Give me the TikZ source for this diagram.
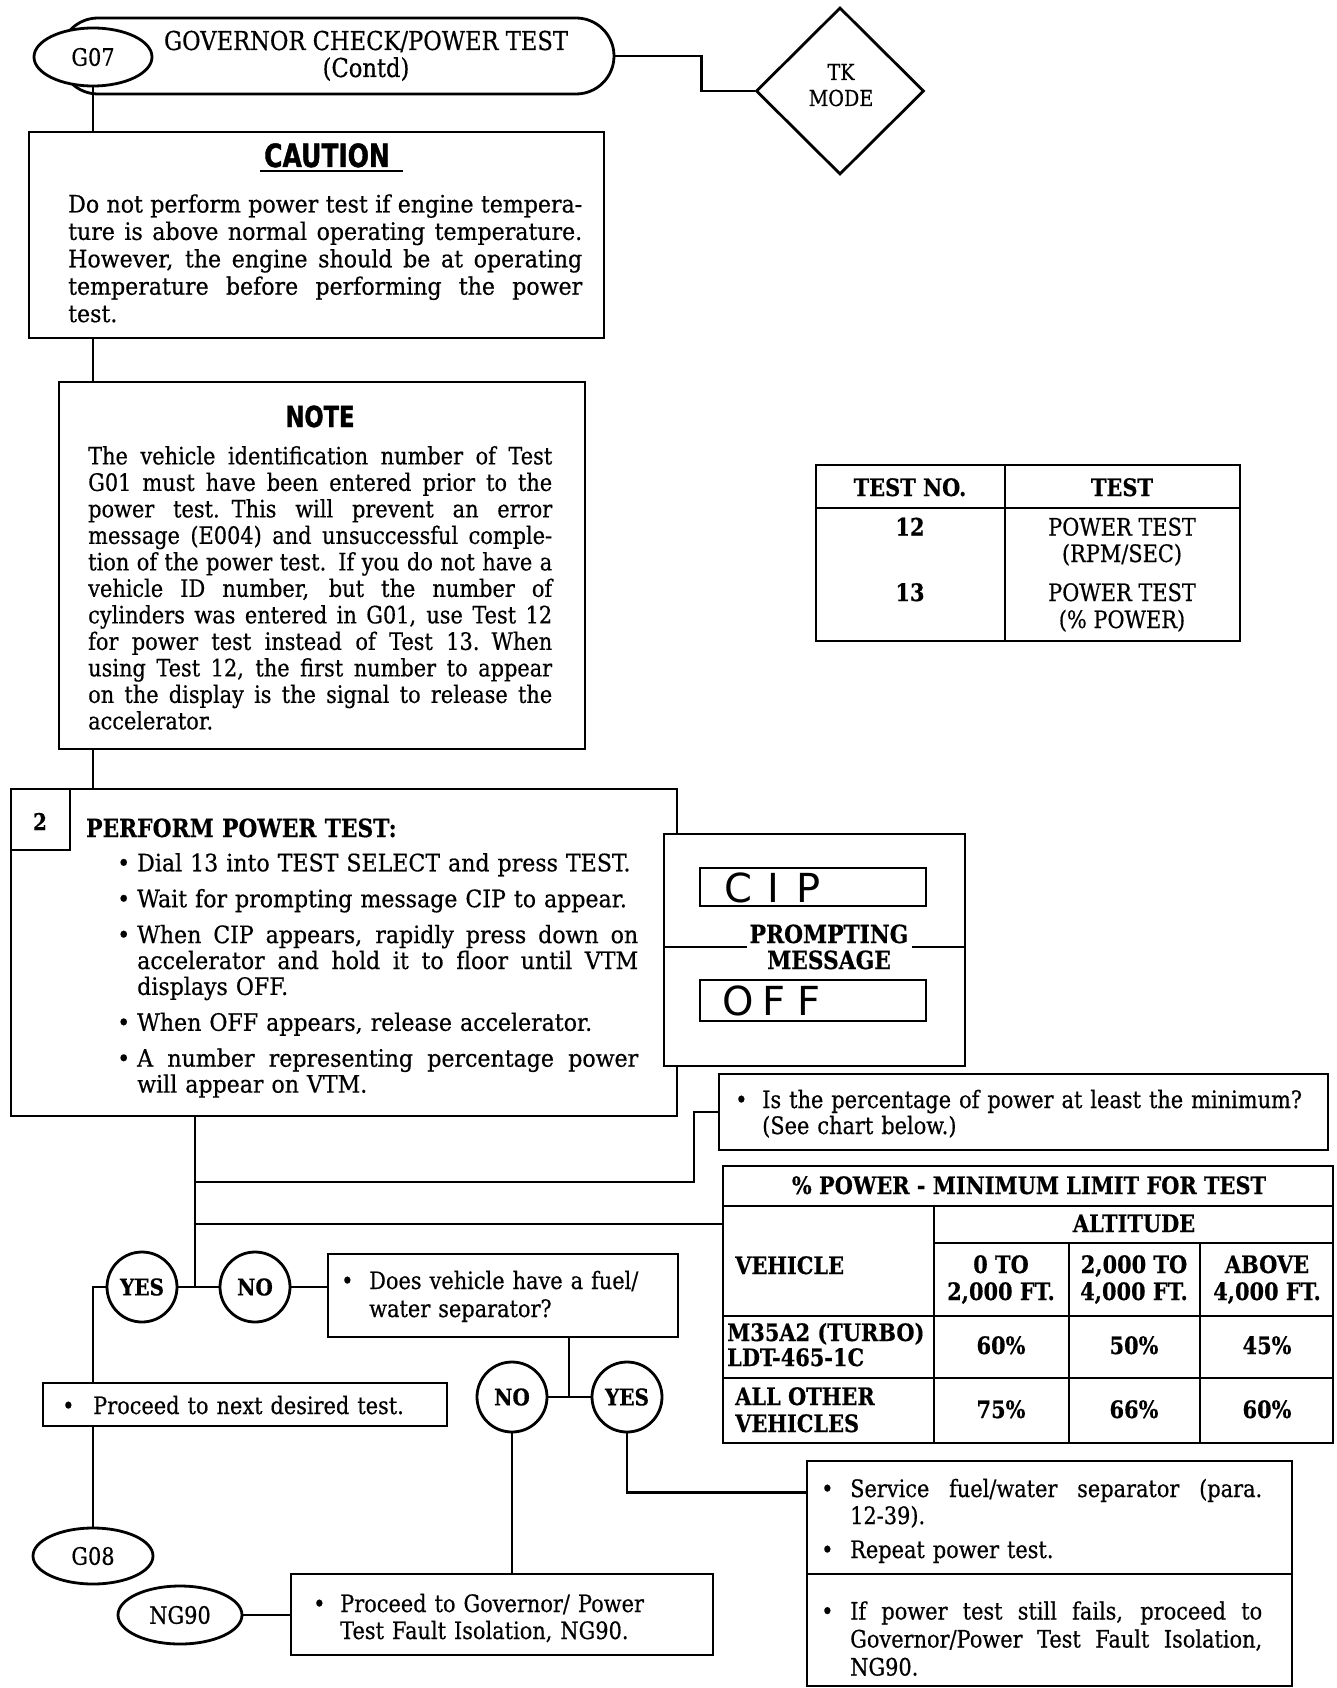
\documentclass[tikz,border=0pt]{standalone}
\usepackage{fontspec}
\setmainfont{DejaVu Serif}[FakeStretch=0.87,FakeBold=0.5]
\newfontfamily\widefont{DejaVu Serif}[FakeStretch=0.92,FakeBold=0.5]
\newfontfamily\hdfont{DejaVu Sans}[FakeStretch=0.78,FakeBold=1.2]
\newfontfamily\segfont{DejaVu Sans}
\usetikzlibrary{shapes.geometric,fit,calc}
\setlength{\parindent}{0pt}
\newlength\bi
\newlength\jw
\newcommand\js[1]{\leavevmode\hbox to \dimexpr\jw-\bi\relax{\spaceskip=\fontdimen2\font plus 1fil\relax #1}}
\newcommand\bul{\leavevmode\hbox to \bi{\textbullet\hfil}}
\newcommand\ind{\leavevmode\hspace*{\bi}}
\newcommand\fsz[2]{\fontsize{#1}{#2}\selectfont}
\newcommand\tbf{\fsz{24}{24}\bfseries}
\begin{document}
\begin{tikzpicture}[x=1pt,y=-1pt,
  bx/.style={draw,line width=2.8pt,inner sep=0pt,fill=white},
  ln/.style={line width=2.8pt},
  tl/.style={line width=2.5pt},
  oval/.style={draw,ellipse,line width=2.8pt,inner sep=0pt,fill=white,font=\fsz{24}{24}},
  yn/.style={draw,circle,line width=2.8pt,inner sep=0pt,minimum size=70pt,fill=white,font=\fsz{23}{23}\bfseries},
  txt/.style={inner sep=0pt,anchor=base west,align=left,text width=#1},
  lbl/.style={inner sep=0pt,anchor=base},
]
\useasboundingbox (0,0) rectangle (1337,1688);
\fill[white] (0,0) rectangle (1337,1688);

% ---------- header ----------
\node[bx,rounded corners=38pt,fit={(60,18)(614,94)}] (title) {};
\node[lbl,font=\fsz{26}{26}] (titleA) at (366,50) {GOVERNOR CHECK/POWER TEST};
\node[lbl,font=\fsz{26}{26}] (titleB) at (366,77) {(Contd)};
\node[oval,minimum width=118pt,minimum height=58pt] (g07) at (93,57) {G07};
\node[draw,diamond,line width=2.8pt,inner sep=0pt,minimum width=168pt,minimum height=167pt] (tk) at (840,91) {};
\node[lbl,font=\fsz{22}{22}] (tkA) at (841,80) {TK};
\node[lbl,font=\fsz{22}{22}] (tkB) at (841,106) {MODE};
\draw[ln] (title.east) -- ++(86,0) |- (tk.west);

% ---------- caution ----------
\node[bx,fit={(29,132)(604,338)}] (caution) {};
\node[lbl,font=\hdfont\bfseries\fsz{32}{32}] (cauthd) at (327,167) {CAUTION};
\draw[ln] ($(cauthd.base west)+(-4,4)$) -- ($(cauthd.base east)+(13,4)$);
\node[txt=514pt,font=\widefont\fsz{24}{27.4}] (cauttxt) at (68,212.5) {\jw=514pt
\js{Do not perform power test if engine tempera-}\\
\js{ture is above normal operating temperature.}\\
\js{However, the engine should be at operating}\\
\js{temperature before performing the power}\\
test.};
\draw[ln] (g07.south) -- (g07.south |- caution.north);

% ---------- note ----------
\node[bx,fit={(59,382)(585,749)}] (note) {};
\node[lbl,font=\hdfont\bfseries\fsz{29}{29}] (notehd) at (320,427) {NOTE};
\node[txt=464pt,font=\fsz{24}{26.5}] (notetxt) at (88,464.4) {\jw=464pt
\js{The vehicle identification number of Test}\\
\js{G01 must have been entered prior to the}\\
\js{power test. This will prevent an error}\\
\js{message (E004) and unsuccessful comple-}\\
\js{tion of the power test. If you do not have a}\\
\js{vehicle ID number, but the number of}\\
\js{cylinders was entered in G01, use Test 12}\\
\js{for power test instead of Test 13. When}\\
\js{using Test 12, the first number to appear}\\
\js{on the display is the signal to release the}\\
accelerator.};
\draw[ln] (caution.south -| g07.south) -- (note.north -| g07.south);

% ---------- test table ----------
\node[draw,line width=2.8pt,inner sep=0pt,fit={(816,465)(1240,641)}] (tests) {};
\draw[tl] (tests.west |- 0,508) -- (tests.east |- 0,508);
\draw[ln] (tests.north -| 1005,0) -- (tests.south -| 1005,0);
\node[lbl,font=\tbf] at (910,496) {TEST NO.};
\node[lbl,font=\tbf] at (1122,496) {TEST};
\node[lbl,font=\tbf] at (910,535.5) {12};
\node[lbl,font=\fsz{24}{24}] at (1122,535.5) {POWER TEST};
\node[lbl,font=\fsz{24}{24}] at (1122,562) {(RPM/SEC)};
\node[lbl,font=\tbf] at (910,601) {13};
\node[lbl,font=\fsz{24}{24}] at (1122,601) {POWER TEST};
\node[lbl,font=\fsz{24}{24}] at (1122,628) {(\% POWER)};

% ---------- step 2 ----------
\node[bx,fit={(11,789)(677,1116)}] (step) {};
\node[bx,fit={(11,789)(70,850)}] (num) {};
\node[lbl,font=\fsz{23}{23}\bfseries] (numtxt) at (40,830) {2};
\node[txt=420pt,font=\fsz{25}{25}\bfseries] (stephd) at (86,837) {PERFORM POWER TEST:};
\node[txt=521pt,font=\widefont\fsz{24}{25.9}] (steptxt) at (117,871.3) {\bi=20pt \jw=521pt
\bul Dial 13 into TEST SELECT and press TEST.\\[10pt]
\bul Wait for prompting message CIP to appear.\\[10pt]
\bul\js{When CIP appears, rapidly press down on}\\
\ind\js{accelerator and hold it to floor until VTM}\\
\ind displays OFF.\\[10pt]
\bul When OFF appears, release accelerator.\\[10pt]
\bul\js{A number representing percentage power}\\
\ind will appear on VTM.};
\draw[ln] (note.south -| g07.south) -- (step.north -| g07.south);

% ---------- prompting message ----------
\node[bx,fit={(664,834)(965,1066)}] (prompt) {};
\node[draw,line width=2.8pt,inner sep=0pt,fit={(700,868)(926,906)}] (cipd) {};
\node[draw,line width=2.8pt,inner sep=0pt,fit={(700,980)(926,1021)}] (offd) {};
\node[inner sep=0pt,anchor=base west,font=\segfont\fsz{40}{40}] (ciptxt) at (721,902)
  {\makebox[35pt]{C}\makebox[35pt]{I}\makebox[35pt]{P}};
\node[inner sep=0pt,anchor=base west,font=\segfont\fsz{40}{40}] (offtxt) at (721,1015)
  {\makebox[35pt]{O}\makebox[35pt]{F}\makebox[35pt]{F}};
\node[lbl,font=\fsz{25}{25}\bfseries] (promptA) at (829,943) {PROMPTING};
\node[lbl,font=\fsz{25}{25}\bfseries] (promptB) at (829,969) {MESSAGE};
\draw[ln] (prompt.west |- 0,947) -- ($(promptA.west |- 0,947)+(-3,0)$);
\draw[ln] ($(promptA.east |- 0,947)+(3,0)$) -- (prompt.east |- 0,947);

% ---------- question ----------
\node[bx,fit={(719,1074)(1328,1150)}] (q1) {};
\node[txt=590pt,font=\fsz{24}{26}] (q1txt) at (735,1108) {\bi=27pt
\bul Is the percentage of power at least the minimum?\\
\ind(See chart below.)};

% ---------- limit table ----------
\node[draw,line width=2.8pt,inner sep=0pt,fit={(723,1166)(1333,1443)}] (lim) {};
\draw[tl] (723,1206) -- (1333,1206);
\draw[tl] (934,1243) -- (1333,1243);
\draw[tl] (723,1316) -- (1333,1316);
\draw[tl] (723,1378) -- (1333,1378);
\draw[tl] (934,1206) -- (934,1443);
\draw[tl] (1069,1243) -- (1069,1443);
\draw[tl] (1200,1243) -- (1200,1443);
\node[lbl,font=\tbf] at (1029,1194) {\% POWER - MINIMUM LIMIT FOR TEST};
\node[lbl,font=\tbf] at (1134,1232) {ALTITUDE};
\node[lbl,font=\tbf,anchor=base west] at (735,1274) {VEHICLE};
\node[lbl,font=\tbf] at (1001,1273) {0 TO};
\node[lbl,font=\tbf] at (1001,1300) {2,000 FT.};
\node[lbl,font=\tbf] at (1134,1273) {2,000 TO};
\node[lbl,font=\tbf] at (1134,1300) {4,000 FT.};
\node[lbl,font=\tbf] at (1267,1273) {ABOVE};
\node[lbl,font=\tbf] at (1267,1300) {4,000 FT.};
\node[lbl,font=\tbf,anchor=base west] at (727,1341) {M35A2 (TURBO)};
\node[lbl,font=\tbf,anchor=base west] at (727,1366) {LDT-465-1C};
\node[lbl,font=\tbf] at (1001,1354) {60\%};
\node[lbl,font=\tbf] at (1134,1354) {50\%};
\node[lbl,font=\tbf] at (1267,1354) {45\%};
\node[lbl,font=\tbf,anchor=base west] at (735,1405) {ALL OTHER};
\node[lbl,font=\tbf,anchor=base west] at (735,1432) {VEHICLES};
\node[lbl,font=\tbf] at (1001,1418) {75\%};
\node[lbl,font=\tbf] at (1134,1418) {66\%};
\node[lbl,font=\tbf] at (1267,1418) {60\%};

% ---------- decision flow ----------
\node[yn] (yes1) at (142,1287) {YES};
\node[yn] (no1) at (255,1287) {NO};
\coordinate (j1) at (195,1287);
\coordinate (b1) at (195,1182);
\coordinate (b2) at (195,1224);
\draw[ln] (step.south -| j1) -- (j1);
\draw[ln] (yes1.east) -- (no1.west);
\draw[ln] (b1) -| (694,1112) -- (q1.west);
\draw[ln] (b2) -- (b2 -| lim.west);

\node[bx,fit={(328,1254)(678,1337)}] (q2) {};
\node[txt=340pt,font=\fsz{24}{28}] (q2txt) at (341,1289) {\bi=28pt
\bul Does vehicle have a fuel/\\
\ind water separator?};
\draw[ln] (no1.east) -- (no1.east -| q2.west);

\node[bx,fit={(43,1383)(447,1426)}] (proc) {};
\node[txt=390pt,font=\fsz{24}{24}] (proctxt) at (62,1414) {\bi=31pt
\bul Proceed to next desired test.};
\draw[ln] (yes1.west) -| (proc.north -| g07.south);

\node[oval,minimum width=120pt,minimum height=56pt] (g08) at (93,1556) {G08};
\draw[ln] (proc.south -| g08.north) -- (g08.north);

\node[yn] (no2) at (512,1397) {NO};
\node[yn] (yes2) at (627,1397) {YES};
\coordinate (j2) at (569,1397);
\draw[ln] (no2.east) -- (yes2.west);
\draw[ln] (q2.south -| j2) -- (j2);

\node[bx,fit={(291,1574)(713,1655)}] (ngbox) {};
\node[txt=400pt,font=\fsz{24}{27}] (ngtxt) at (313,1612) {\bi=27pt
\bul Proceed to Governor/ Power\\
\ind Test Fault Isolation, NG90.};
\draw[ln] (no2.south) -- (no2.south |- ngbox.north);

\node[oval,minimum width=124pt,minimum height=58pt] (ng90) at (180,1615) {NG90};
\draw[ln] (ng90.east) -- (ng90.east -| ngbox.west);

\node[bx,fit={(807,1461)(1292,1574)}] (svc) {};
\node[bx,fit={(807,1574)(1292,1686)}] (svc2) {};
\coordinate (svcin) at ($(svc.north west)+(0,33)$);
\draw[ln] (yes2.south) |- (svcin);
\node[txt=441pt,font=\fsz{24}{27}] (svctxt) at (821,1497) {\bi=29pt \jw=441pt
\bul\js{Service fuel/water separator (para.}\\
\ind 12-39).\\[7pt]
\bul Repeat power test.};
\node[txt=441pt,font=\fsz{24}{28}] (svc2txt) at (821,1619.5) {\bi=29pt \jw=441pt
\bul\js{If power test still fails, proceed to}\\
\ind\js{Governor/Power Test Fault Isolation,}\\
\ind NG90.};
\end{tikzpicture}
\end{document}
